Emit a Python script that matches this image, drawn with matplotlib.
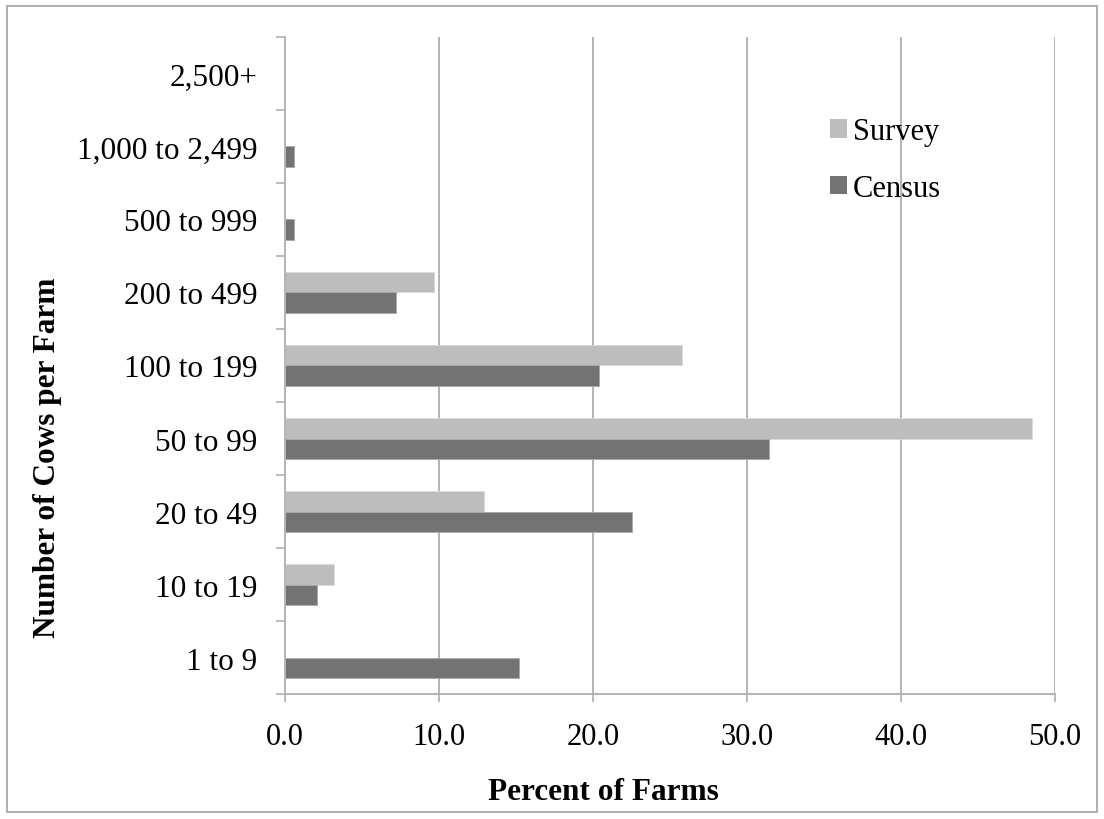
import numpy as np
import matplotlib.pyplot as plt
from matplotlib.patches import Rectangle, Patch

plt.rcParams['font.family'] = ['Liberation Serif', 'DejaVu Serif']

categories = ['1 to 9', '10 to 19', '20 to 49', '50 to 99', '100 to 199',
              '200 to 499', '500 to 999', '1,000 to 2,499', '2,500+']
survey = [0.0, 3.2, 12.9, 48.5, 25.8, 9.7, 0.0, 0.0, 0.0]
census = [15.2, 2.1, 22.5, 31.4, 20.4, 7.2, 0.6, 0.6, 0.0]
xticks = [0, 10, 20, 30, 40, 50]

survey_col = '#bdbdbd'
census_col = '#737373'
grid_col = '#b4b4b4'

fig = plt.figure(figsize=(11.04, 8.2), dpi=100)
ax = fig.add_axes([0.2582, 0.1524, 0.6974, 0.8013])

y = np.arange(len(categories))
h = 0.28
ax.barh(y + h / 2, survey, height=h, color=survey_col, edgecolor='#dadada',
        linewidth=0.6, zorder=2)
ax.barh(y - h / 2, census, height=h, color=census_col, edgecolor='#a8a8a8',
        linewidth=0.6, zorder=2)

ax.set_xlim(0, 50)
ax.set_ylim(-0.5, len(categories) - 0.5)

ax.set_xticks(xticks)
ax.set_xticklabels(['%.1f' % v for v in xticks])
ax.set_yticks(y)
ax.set_yticklabels(categories)
ax.set_yticks(np.arange(len(categories) + 1) - 0.5, minor=True)

ax.tick_params(axis='y', which='major', length=0, pad=20, labelsize=22.5)
ax.tick_params(axis='y', which='minor', length=6.5, width=1.3, color=grid_col)
ax.tick_params(axis='x', length=6, width=1.3, color=grid_col, pad=14,
               labelsize=22)

ax.xaxis.grid(True, color=grid_col, linewidth=1.4, zorder=0)
ax.set_axisbelow(True)
for s in ['top', 'right']:
    ax.spines[s].set_visible(False)
for s in ['left', 'bottom']:
    ax.spines[s].set_color(grid_col)
    ax.spines[s].set_linewidth(1.4)

ax.set_xlabel('Percent of Farms', fontsize=22.5, fontweight='bold')
ax.xaxis.set_label_coords(0.413, -0.127)
ax.set_ylabel('Number of Cows per Farm', fontsize=22.5, fontweight='bold')
ax.yaxis.set_label_coords(-0.29, 0.361)

handles = [Patch(facecolor=survey_col, label='Survey'),
           Patch(facecolor=census_col, label='Census')]
ax.legend(handles=handles, loc='upper left', bbox_to_anchor=(0.692, 0.8965),
          frameon=False, fontsize=22, handlelength=0.55, handleheight=0.55,
          handletextpad=0.2, labelspacing=0.91, borderaxespad=0)

# outer frame around the whole figure
fig.patches.append(Rectangle((0.0063, 0.0085), 0.9874, 0.983,
                             transform=fig.transFigure, fill=False,
                             edgecolor='#a0a0a0', linewidth=1.2))

fig.savefig('out.png', dpi=100)
